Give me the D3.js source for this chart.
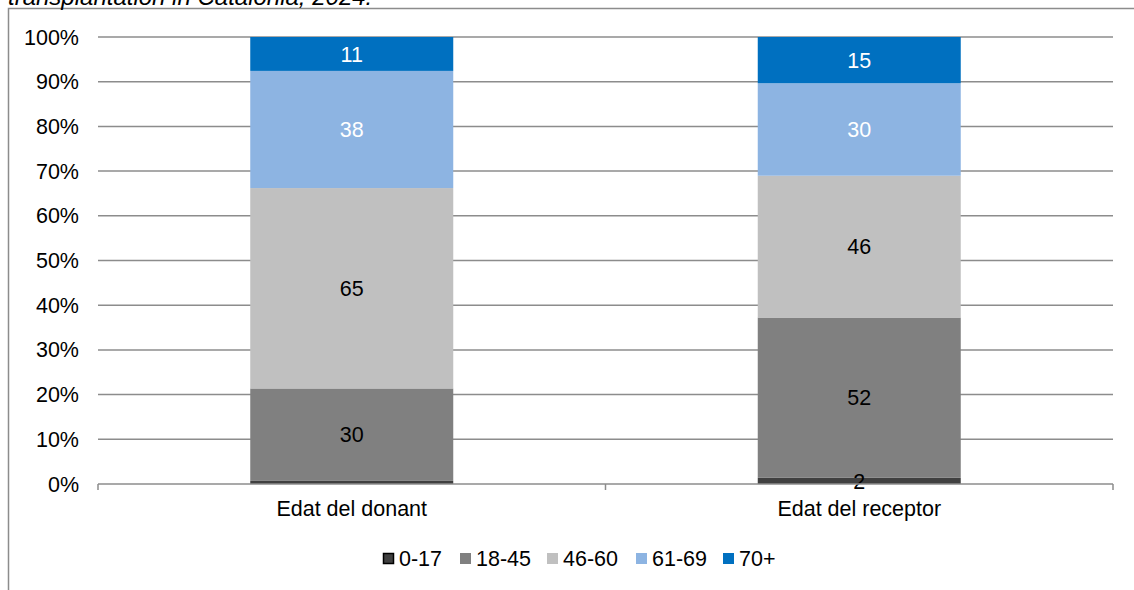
<!DOCTYPE html>
<html><head><meta charset="utf-8">
<script src="https://cdn.jsdelivr.net/npm/d3@7"></script>
<style>body{margin:0;background:#fff}svg{display:block;font-family:"Liberation Sans",Arial,sans-serif}</style>
</head><body>
<svg id="c" width="1134" height="590"></svg>
<script>
const categories = ["Edat del donant", "Edat del receptor"];
const seriesNames = ["0-17", "18-45", "46-60", "61-69", "70+"];
const v0_17 = [1, 2];
const v18_45 = [30, 52];
const v46_60 = [65, 46];
const v61_69 = [38, 30];
const v70 = [11, 15];
const showLabel = [[false, true], [true, true], [true, true], [true, true], [true, true]];
const colors = ["#404040", "#808080", "#c0c0c0", "#8db4e2", "#0070c0"];
const labelColors = ["#000", "#000", "#000", "#fff", "#fff"];
const yTicks = [0, 0.1, 0.2, 0.3, 0.4, 0.5, 0.6, 0.7, 0.8, 0.9, 1];

const series = [v0_17, v18_45, v46_60, v61_69, v70];
const totals = categories.map((c, i) => d3.sum(series, s => s[i]));
const normRows = categories.map((c, i) => {
  const o = {cat: c, idx: i};
  seriesNames.forEach((s, j) => o[s] = series[j][i] / totals[i]);
  return o;
});
const stacked = d3.stack().keys(seriesNames)(normRows);

const svg = d3.select("#c");
const FS = 21.5;
const m = {l: 98, r: 1113, t: 37, b: 484};
const x = d3.scaleBand().domain(categories).range([m.l, m.r]).paddingInner(0).paddingOuter(0);
const bw = x.bandwidth() * 0.4;
const y = d3.scaleLinear().domain([0, 1]).range([m.b, m.t]);

// frame
svg.append("path").attr("d", `M8.5,600 V8.5 H1200`).attr("fill", "none").attr("stroke", "#8c8c8c").attr("stroke-width", 1.5);
// title (cut at top, as in the reference)
svg.append("text").attr("x", 8).attr("y", 5).attr("font-size", 24).attr("font-style", "italic").attr("fill", "#000")
  .text("transplantation in Catalonia, 2024.");

// gridlines
svg.append("g").selectAll("line").data(yTicks.slice(1)).join("line")
  .attr("x1", m.l).attr("x2", m.r).attr("y1", d => y(d)).attr("y2", d => y(d))
  .attr("stroke", "#8c8c8c").attr("stroke-width", 1.5);

// y labels
svg.append("g").selectAll("text").data(yTicks).join("text")
  .attr("x", 79).attr("y", d => y(d)).attr("dy", "0.35em").attr("text-anchor", "end")
  .attr("font-size", FS).attr("fill", "#000").text(d => d3.format(".0%")(d));

// bars
const g = svg.append("g");
stacked.forEach((layer, j) => {
  g.append("g").selectAll("rect").data(layer).join("rect")
    .attr("x", d => x(d.data.cat) + (x.bandwidth() - bw) / 2)
    .attr("width", bw)
    .attr("y", d => y(d[1]))
    .attr("height", d => y(d[0]) - y(d[1]))
    .attr("fill", colors[j]);
});
// labels
stacked.forEach((layer, j) => {
  g.append("g").selectAll("text").data(layer.filter((d, i) => showLabel[j][i])).join("text")
    .attr("x", d => x(d.data.cat) + x.bandwidth() / 2)
    .attr("y", d => (y(d[0]) + y(d[1])) / 2)
    .attr("dy", "0.36em").attr("text-anchor", "middle").attr("font-size", FS)
    .attr("fill", labelColors[j])
    .text(d => series[j][d.data.idx]);
});

// x axis
const xa = svg.append("g");
xa.append("line").attr("x1", m.l).attr("x2", m.r).attr("y1", m.b).attr("y2", m.b).attr("stroke", "#8c8c8c").attr("stroke-width", 1.5);
const tickXs = [m.l].concat(categories.map(c => x(c) + x.bandwidth()));
xa.selectAll("line.t").data(tickXs).join("line").attr("class", "t")
  .attr("x1", d => d).attr("x2", d => d).attr("y1", m.b).attr("y2", m.b + 6)
  .attr("stroke", "#8c8c8c").attr("stroke-width", 1.5);
xa.selectAll("text").data(categories).join("text")
  .attr("x", d => x(d) + x.bandwidth() / 2).attr("y", 516).attr("text-anchor", "middle")
  .attr("font-size", FS).attr("fill", "#000").text(d => d);

// legend
const legX = [383, 460, 547, 636, 723];
const lg = svg.append("g");
seriesNames.forEach((s, j) => {
  const it = lg.append("g").attr("transform", `translate(${legX[j]},553)`);
  it.append("rect").attr("x", j === 0 ? 0.5 : 0).attr("y", j === 0 ? 0.5 : 0)
    .attr("width", j === 0 ? 10 : 11).attr("height", j === 0 ? 10 : 11).attr("fill", colors[j])
    .attr("stroke", j === 0 ? "#000" : "none").attr("stroke-width", j === 0 ? 1.5 : 0);
  it.append("text").attr("x", 16).attr("y", 5.5).attr("dy", "0.35em").attr("font-size", FS).attr("fill", "#000").text(s);
});
</script>
</body></html>
